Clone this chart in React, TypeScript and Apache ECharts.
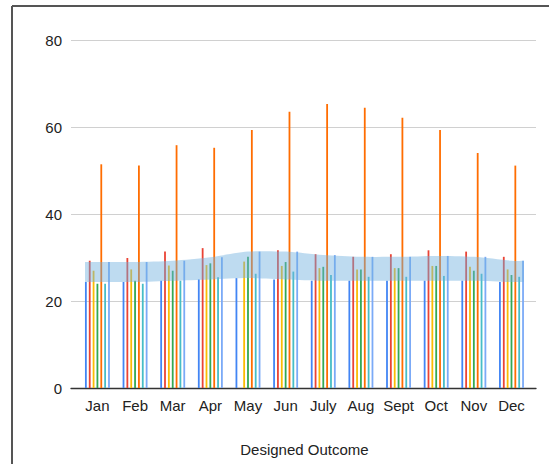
import React, { useEffect, useRef } from 'react';
import * as echarts from 'echarts';

const months = ['Jan', 'Feb', 'Mar', 'Apr', 'May', 'Jun', 'July', 'Aug', 'Sept', 'Oct', 'Nov', 'Dec'];
const yTicks = [0, 20, 40, 60, 80];
const lowBlue = [24.4, 24.4, 24.7, 25.0, 25.3, 25.0, 24.7, 24.7, 24.7, 24.7, 24.7, 24.4];
const red = [29.3, 29.9, 31.4, 32.2, null, 31.7, 30.8, 30.2, 30.8, 31.7, 31.4, 30.2];
const yellow = [27.0, 27.3, 28.2, 28.3, 29.1, 28.1, 27.6, 27.3, 27.6, 28.1, 27.9, 27.3];
const green = [24.0, 24.7, 27.0, 28.7, 30.2, 29.0, 27.9, 27.3, 27.6, 28.1, 27.0, 26.0];
const orange = [51.5, 51.2, 55.9, 55.3, 59.4, 63.6, 65.4, 64.5, 62.2, 59.4, 54.1, 51.2];
const teal = [24.0, 24.0, 24.7, 25.5, 26.3, 26.8, 26.0, 25.6, 25.6, 25.8, 26.3, 25.6];
const highBlue = [29.0, 29.0, 29.3, 30.1, 31.4, 31.4, 30.6, 30.2, 30.2, 30.4, 30.2, 29.3];

const barSeries = [
  { name: 'low', data: lowBlue, color: '#4285F4' },
  { name: 'red', data: red, color: '#EA4335' },
  { name: 'yellow', data: yellow, color: '#FBBC04' },
  { name: 'green', data: green, color: '#34A853' },
  { name: 'orange', data: orange, color: '#FF6D01' },
  { name: 'teal', data: teal, color: '#46BDC6' },
  { name: 'high', data: highBlue, color: '#7BAAF7' },
];

const FONT = "'Liberation Sans', Arial, sans-serif";

function curvePath(pts: number[][], start: 'M' | 'L'): string {
  const t = 0.8;
  let d = `${start}${pts[0][0]},${pts[0][1]}`;
  for (let i = 0; i < pts.length - 1; i++) {
    const p0 = pts[Math.max(i - 1, 0)];
    const p1 = pts[i];
    const p2 = pts[i + 1];
    const p3 = pts[Math.min(i + 2, pts.length - 1)];
    const c1x = p1[0] + ((p2[0] - p0[0]) / 6) * t;
    const c1y = p1[1] + ((p2[1] - p0[1]) / 6) * t;
    const c2x = p2[0] - ((p3[0] - p1[0]) / 6) * t;
    const c2y = p2[1] - ((p3[1] - p1[1]) / 6) * t;
    d += `C${c1x},${c1y},${c2x},${c2y},${p2[0]},${p2[1]}`;
  }
  return d;
}

export default function App() {
  const ref = useRef<HTMLDivElement>(null);
  useEffect(() => {
    const chart = echarts.init(ref.current!, null, { renderer: 'svg' });
    const n = months.length;
    const ext = 0.33;
    const bandX = [-ext, ...months.map((_, i) => i), n - 1 + ext];
    const lowPts = [lowBlue[0], ...lowBlue, lowBlue[n - 1]];
    const highPts = [highBlue[0], ...highBlue, highBlue[n - 1]];

    chart.setOption({
      animation: false,
      backgroundColor: '#fff',
      grid: [
        { left: 78.6, right: 18.7, top: 40.5, bottom: 76 },
        { left: 71, right: 13, top: 40.5, bottom: 76 },
      ],
      xAxis: [
        {
          type: 'category',
          gridIndex: 0,
          data: months,
          boundaryGap: true,
          axisLine: { show: false },
          axisTick: { show: false },
          axisLabel: { interval: 0, fontFamily: FONT, fontSize: 15, color: '#222', margin: 10 },
          name: 'Designed Outcome',
          nameLocation: 'middle',
          nameGap: 54,
          nameTextStyle: { fontFamily: FONT, fontSize: 15, color: '#222' },
        },
        {
          type: 'value',
          gridIndex: 0,
          min: -0.5,
          max: n - 0.5,
          show: false,
        },
        {
          type: 'value',
          gridIndex: 1,
          min: 0,
          max: 1,
          axisLine: { show: true, onZero: false, lineStyle: { color: '#333', width: 1.3 } },
          axisTick: { show: false },
          axisLabel: { show: false },
          splitLine: { show: false },
        },
      ],
      yAxis: [
        { type: 'value', gridIndex: 0, min: 0, max: 80, show: false },
        {
          type: 'value',
          gridIndex: 1,
          min: yTicks[0],
          max: yTicks[yTicks.length - 1],
          interval: 20,
          axisLine: { show: false },
          axisTick: { show: false },
          axisLabel: { fontFamily: FONT, fontSize: 15, color: '#222', margin: 9 },
          splitLine: { lineStyle: { color: '#d0d0d0', width: 1 } },
        },
      ],
      series: [
        ...barSeries.map((s) => ({
          type: 'bar',
          name: s.name,
          xAxisIndex: 0,
          yAxisIndex: 0,
          data: s.data,
          barWidth: 1.8,
          barGap: '114%',
          itemStyle: { color: s.color },
          z: 2,
        })),
        {
          type: 'custom',
          name: 'band',
          xAxisIndex: 1,
          yAxisIndex: 0,
          data: [[0, lowBlue[0]]],
          z: 5,
          silent: true,
          renderItem: (_params: any, api: any) => {
            const up = bandX.map((x, i) => api.coord([x, highPts[i]]));
            const lo = bandX.map((x, i) => api.coord([x, lowPts[i]])).reverse();
            const d = curvePath(up, 'M') + curvePath(lo, 'L') + 'Z';
            return {
              type: 'path',
              shape: { pathData: d },
              style: { fill: 'rgba(110,175,222,0.45)', stroke: 'none' },
            };
          },
        },
      ],
      graphic: [
        { type: 'line', shape: { x1: 12, y1: 6, x2: 549, y2: 6 }, style: { stroke: '#555', lineWidth: 2 } },
        { type: 'line', shape: { x1: 12, y1: 6, x2: 12, y2: 464 }, style: { stroke: '#555', lineWidth: 2 } },
      ],
    });
    return () => chart.dispose();
  }, []);
  return <div ref={ref} style={{ position: 'fixed', left: 0, top: 0, width: 549, height: 464 }} />;
}
